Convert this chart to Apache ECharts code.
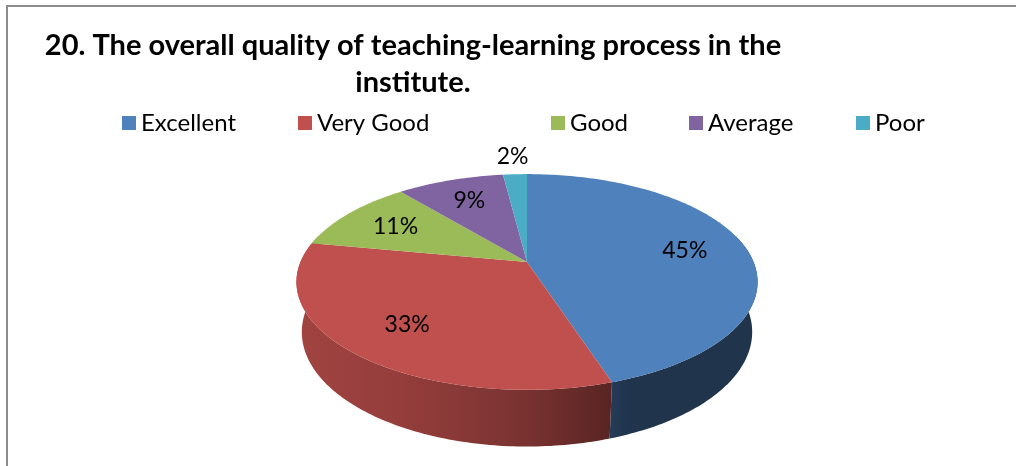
<!DOCTYPE html>
<html><head><meta charset="utf-8">
<script src="https://cdn.jsdelivr.net/npm/echarts@6/dist/echarts.min.js"></script>
<style>
html,body{margin:0;padding:0;background:#fff;overflow:hidden}
#frame{position:absolute;left:6px;top:5px;width:1100px;height:600px;border-left:2px solid #8c8c8c;border-top:2px solid #8c8c8c}
#chart{position:absolute;left:0;top:0;width:1016px;height:466px}
</style></head><body>
<div id="frame"></div><div id="chart"></div>
<script>
// ---- data ----
const titleLines = ['20. The overall quality of teaching-learning process in the', 'institute.'];
const categories = ['Excellent', 'Very Good', 'Good', 'Average', 'Poor'];
const values = [45, 33, 11, 9, 2];

// ---- style / layout ----
const colors = ['#4F81BD', '#C0504D', '#9BBB59', '#8064A2', '#4BACC6'];
const legendLeft = [122, 298, 551, 689, 856];
const FONT = 'Lato, "Liberation Sans", sans-serif';
const CX = 527, CY = 262, F = 1112, FX = 1092, D = 4.82, H = 0.245;
const SA = 0.4515, CA = Math.sqrt(1 - SA * SA);
const RX = FX / D;

const total = values.reduce((a, b) => a + b, 0);
const starts = []; let acc = 0;
values.forEach(v => { starts.push(acc / total * 360); acc += v; });

function proj(phi, r, y) {
  const p = phi * Math.PI / 180;
  const x = r * Math.sin(p), z = r * Math.cos(p);
  const d = D + z * CA - y * SA;
  const u = z * SA + y * CA;
  return [CX + FX * x / d, CY - F * u / d];
}
function arc(a0, a1, r, y) {
  const pts = []; const n = Math.max(2, Math.ceil(a1 - a0));
  for (let k = 0; k <= n; k++) pts.push(proj(a0 + (a1 - a0) * k / n, r, y));
  return pts;
}
function shade(hex, f) {
  const n = parseInt(hex.slice(1), 16);
  const r = (n >> 16) & 255, g = (n >> 8) & 255, b = n & 255;
  return 'rgb(' + Math.round(r * f) + ',' + Math.round(g * f) + ',' + Math.round(b * f) + ')';
}
const shadeStops = [[-1, 0.84], [-0.5, 0.76], [0, 0.63], [0.37, 0.46], [0.45, 0.40], [1, 0.40]];
function shadeAt(u) {
  if (u <= shadeStops[0][0]) return shadeStops[0][1];
  for (let i = 1; i < shadeStops.length; i++) {
    if (u <= shadeStops[i][0]) {
      const [u0, f0] = shadeStops[i - 1], [u1, f1] = shadeStops[i];
      return f0 + (f1 - f0) * (u - u0) / (u1 - u0);
    }
  }
  return shadeStops[shadeStops.length - 1][1];
}

function renderWall(params, api) {
  const i = api.value(0);
  const a0 = starts[i], a1 = a0 + api.value(1) / total * 360;
  const lo = Math.max(a0, 75), hi = Math.min(a1, 285);
  if (hi <= lo) return { type: 'group', children: [] };
  const pts = arc(lo, hi, 1, 0).concat(arc(lo, hi, 1, -H).reverse());
  const xs = pts.map(p => p[0]);
  const minX = Math.min(...xs), maxX = Math.max(...xs);
  const stops = [];
  for (let k = 0; k <= 12; k++) {
    const x = minX + (maxX - minX) * k / 12;
    stops.push({ offset: k / 12, color: shade(colors[i], shadeAt((x - CX) / RX)) });
  }
  return {
    type: 'polygon', shape: { points: pts },
    style: { fill: { type: 'linear', x: minX, y: 0, x2: maxX, y2: 0, global: true, colorStops: stops } }
  };
}
function renderTop(params, api) {
  const i = api.value(0);
  const a0 = starts[i], a1 = a0 + api.value(1) / total * 360;
  const pts = [proj(0, 0, 0)].concat(arc(a0, a1, 1, 0));
  return { type: 'polygon', shape: { points: pts }, style: { fill: colors[i] } };
}
function renderLabel(params, api) {
  const i = api.value(0), v = api.value(1);
  const mid = starts[i] + v / total * 180;
  const frac = v / total;
  const p = proj(mid, frac < 0.05 ? 1.25 : 0.72, 0);
  return {
    type: 'text', x: p[0], y: p[1],
    style: { text: Math.round(frac * 100) + '%', fill: '#000', font: '23px ' + FONT, align: 'center', verticalAlign: 'middle' }
  };
}

const series = [{
  type: 'custom', name: '_walls', coordinateSystem: 'none', silent: true, z: 1,
  renderItem: renderWall, data: values.map((v, i) => [i, v])
}];
categories.forEach((n, i) => {
  series.push({
    type: 'custom', name: n, coordinateSystem: 'none', silent: true, z: 2,
    itemStyle: { color: colors[i] }, renderItem: renderTop, data: [[i, values[i]]]
  });
});
series.push({
  type: 'custom', name: '_labels', coordinateSystem: 'none', silent: true, z: 3,
  renderItem: renderLabel, data: values.map((v, i) => [i, v])
});

const chart = echarts.init(document.getElementById('chart'), null, { renderer: 'canvas' });
chart.setOption({
  animation: false,
  title: {
    text: titleLines.join('\n'), left: 408, top: 22, textAlign: 'center',
    textStyle: { fontFamily: FONT, fontWeight: 'bold', fontSize: 29, lineHeight: 37, color: '#000' }
  },
  legend: categories.map((n, i) => ({
    data: [n], left: legendLeft[i], top: 111, icon: 'rect', itemWidth: 14, itemHeight: 14,
    padding: 0, selectedMode: false,
    textStyle: { fontFamily: FONT, fontSize: 24, lineHeight: 24, color: '#000' }
  })),
  series: series
});
</script>
</body></html>
